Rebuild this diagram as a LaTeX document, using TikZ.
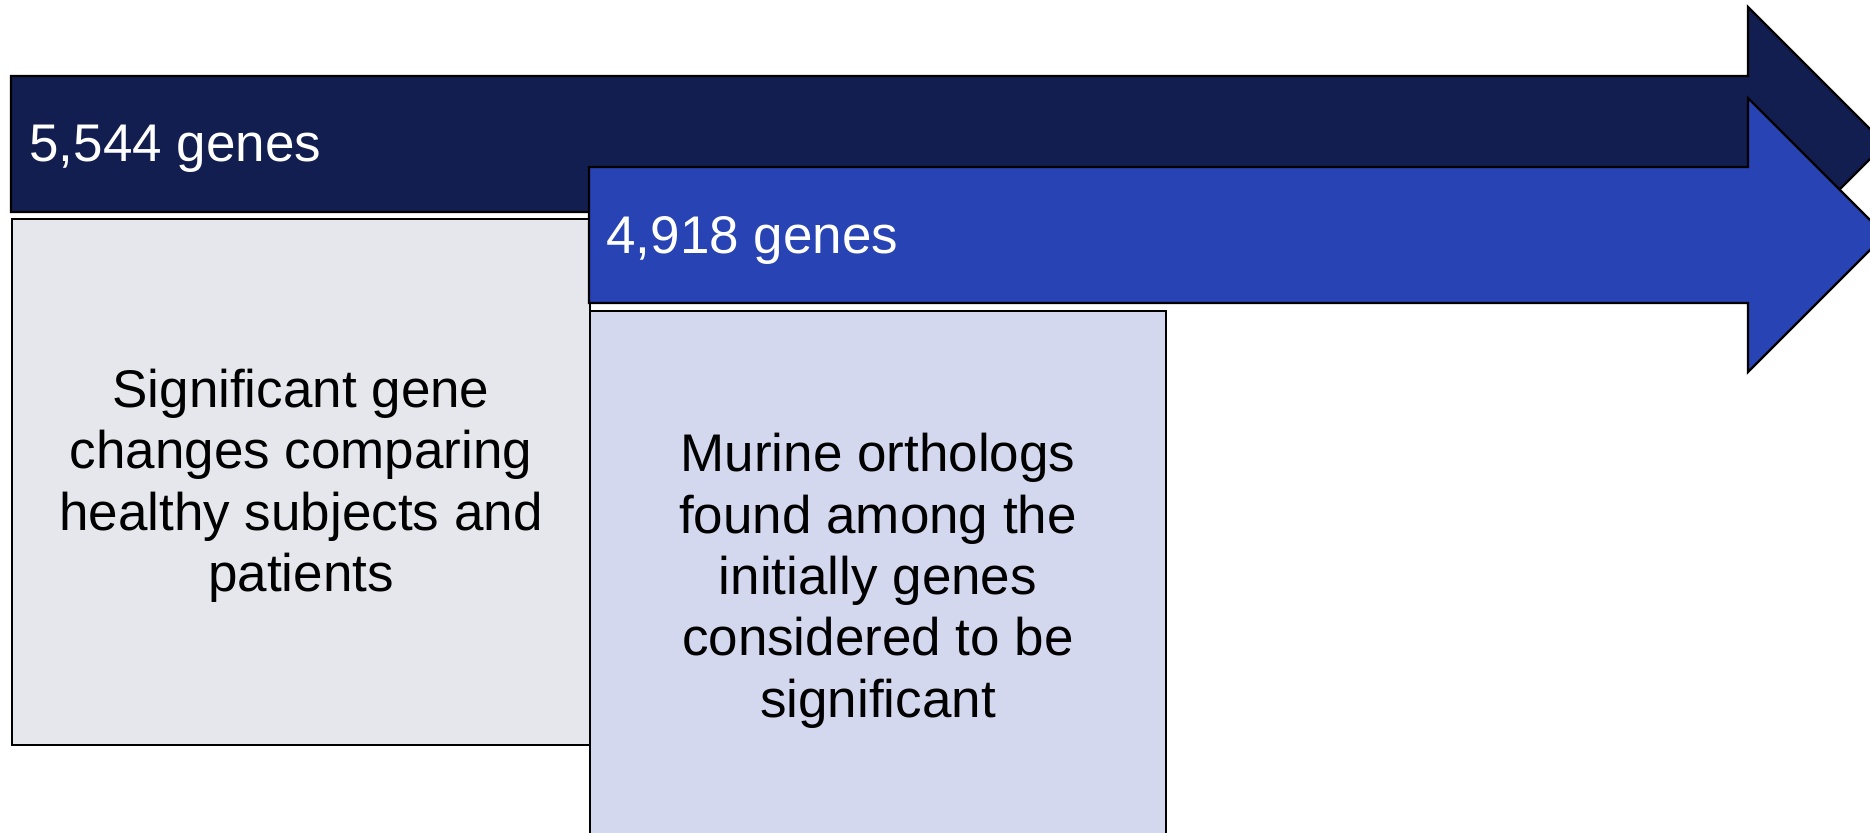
\documentclass[tikz,border=0pt]{standalone}
\usepackage{fontspec}
\setmainfont{Liberation Sans}
\usepackage{tikz}
\usetikzlibrary{positioning}
\definecolor{navy}{HTML}{131E50}
\definecolor{royal}{HTML}{2843B4}
\definecolor{grayfill}{HTML}{E6E7EC}
\definecolor{bluefill}{HTML}{D4D8EE}

\begin{document}
\begin{tikzpicture}[x=0.5pt, y=-0.5pt,
  font=\fontsize{26.5}{30.7}\selectfont,
  arr/.style={draw=black, line width=1.2pt, line join=miter},
  lbl/.style={text=white, anchor=west, inner sep=0pt},
  txtbox/.style={draw=black, line width=1pt, align=center, inner sep=0pt, anchor=north west}]
  \useasboundingbox (0,0) rectangle (1870,832);
  \clip (0,0) rectangle (1870,832);
  % first stage arrow
  \draw[arr, fill=navy] (11,76) -- (1748,76) -- (1748,7) -- (1885,144)
    -- (1748,281) -- (1748,212) -- (11,212) -- cycle;
  \node[lbl] (n1) at (29,149) {5,544 genes};
  \node[txtbox, fill=grayfill, minimum width=289pt, minimum height=263pt] (healthy) at (11,218)
    {\rule{0pt}{23pt}Significant gene\\changes comparing\\healthy subjects and\\patients};
  % second stage arrow
  \draw[arr, fill=royal] (589,167) -- (1748,167) -- (1748,98) -- (1885,235)
    -- (1748,372) -- (1748,303) -- (589,303) -- cycle;
  \node[lbl] (n2) at (606,240) {4,918 genes};
  \node[txtbox, fill=bluefill, minimum width=288pt, minimum height=266pt] (murine) at (589,310)
    {\rule{0pt}{23pt}Murine orthologs\\found among the\\initially genes\\considered to be\\significant};
\end{tikzpicture}
\end{document}
